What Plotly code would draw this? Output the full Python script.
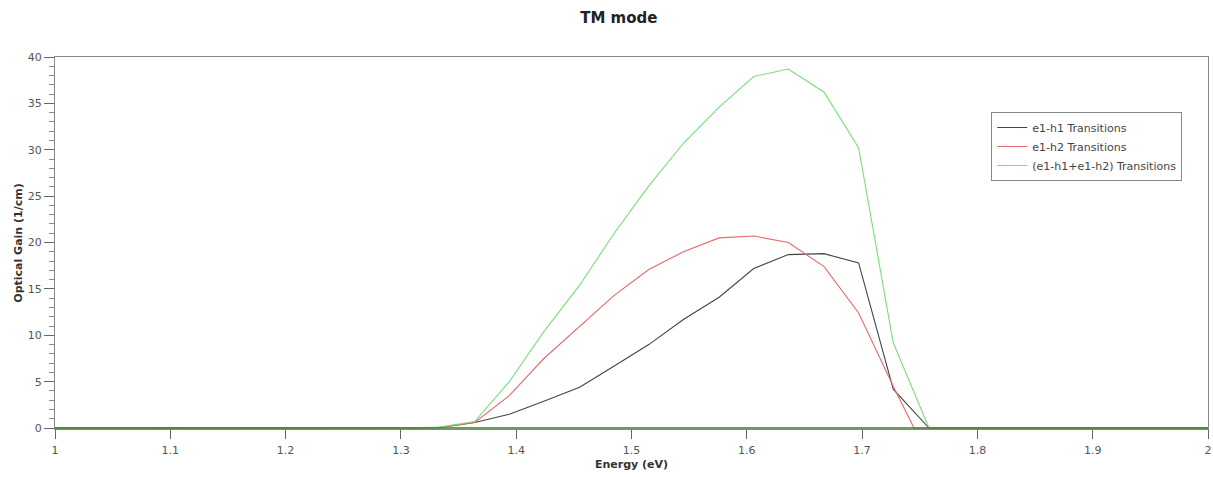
import plotly.graph_objects as go

energy = [1.000, 1.030, 1.061, 1.091, 1.121, 1.152, 1.182, 1.212, 1.242, 1.273,
          1.303, 1.333, 1.364, 1.394, 1.424, 1.455, 1.485, 1.515, 1.545, 1.576,
          1.606, 1.636, 1.667, 1.697, 1.727, 1.758, 1.788, 1.818, 1.848, 1.879,
          1.909, 1.939, 1.970, 2.000]

e1h1 = [0, 0, 0, 0, 0, 0, 0, 0, 0, 0,
        0, 0.05, 0.6, 1.5, 2.9, 4.4, 6.7, 9.0, 11.7, 14.1,
        17.2, 18.7, 18.8, 17.8, 4.2, 0, 0, 0, 0, 0,
        0, 0, 0, 0]

energy_e1h2 = [1.000, 1.030, 1.061, 1.091, 1.121, 1.152, 1.182, 1.212, 1.242, 1.273,
               1.303, 1.333, 1.364, 1.394, 1.424, 1.455, 1.485, 1.515, 1.545, 1.576,
               1.606, 1.636, 1.667, 1.697, 1.727, 1.745, 1.788, 1.818, 1.848, 1.879,
               1.909, 1.939, 1.970, 2.000]

e1h2 = [0, 0, 0, 0, 0, 0, 0, 0, 0, 0,
        0, 0.05, 0.6, 3.5, 7.5, 11.0, 14.3, 17.1, 19.0, 20.5,
        20.7, 20.0, 17.4, 12.4, 4.5, 0, 0, 0, 0, 0,
        0, 0, 0, 0]

total = [0, 0, 0, 0, 0, 0, 0, 0, 0, 0,
         0, 0.1, 0.7, 5.0, 10.4, 15.4, 21.0, 26.1, 30.7, 34.6,
         37.9, 38.7, 36.2, 30.2, 9.2, 0, 0, 0, 0, 0,
         0, 0, 0, 0]

names = ["e1-h1 Transitions", "e1-h2 Transitions", "(e1-h1+e1-h2) Transitions"]
x_ticks = [1, 1.1, 1.2, 1.3, 1.4, 1.5, 1.6, 1.7, 1.8, 1.9, 2]
x_tick_labels = ["1", "1.1", "1.2", "1.3", "1.4", "1.5", "1.6", "1.7", "1.8", "1.9", "2"]
y_ticks = [0, 5, 10, 15, 20, 25, 30, 35, 40]

fig = go.Figure()
fig.add_trace(go.Scatter(x=energy, y=e1h1, mode="lines", name=names[0],
                         line=dict(color="#444444", width=1.1)))
fig.add_trace(go.Scatter(x=energy_e1h2, y=e1h2, mode="lines", name=names[1],
                         line=dict(color="#e46a6a", width=1.1)))
fig.add_trace(go.Scatter(x=energy, y=total, mode="lines", name=names[2],
                         line=dict(color="#78de78", width=1.1)))
# dark baseline as in the reference
fig.add_trace(go.Scatter(x=[energy[0], energy[-1]], y=[0, 0], mode="lines",
                         line=dict(color="#3d7a2e", width=1.6), showlegend=False,
                         hoverinfo="skip"))

fig.update_layout(
    width=1213, height=477,
    margin=dict(l=55, r=5, t=57, b=48, autoexpand=False),
    paper_bgcolor="white", plot_bgcolor="white",
    font=dict(family="DejaVu Sans", size=11, color="#555555"),
    title=dict(text="<b>TM mode</b>", x=0.489, xref="paper", xanchor="center",
               y=0.962, yref="container", yanchor="middle",
               font=dict(size=15, color="#222222", family="DejaVu Sans")),
    showlegend=True,
    legend=dict(x=0.812, y=0.852, xanchor="left", yanchor="top",
                bgcolor="white", bordercolor="#888888", borderwidth=1,
                font=dict(size=11, color="#444444"), tracegroupgap=0,
                itemwidth=30),
    xaxis=dict(range=[1, 2], tickvals=x_ticks, ticktext=x_tick_labels,
               showgrid=False, zeroline=False, showline=True,
               linecolor="#888888", linewidth=1, mirror=True,
               ticks="outside", ticklen=9, tickcolor="#666666",
               ticklabelstandoff=2, ticklabeloverflow="allow",
               tickfont=dict(size=11, color="#555555"),
               title=dict(text="<b>Energy (eV)</b>", standoff=4,
                          font=dict(size=11, color="#333333"))),
    yaxis=dict(range=[-0.1, 40], tickvals=y_ticks,
               showgrid=False, zeroline=False, showline=True,
               linecolor="#888888", linewidth=1, mirror=True,
               ticks="outside", ticklen=10, tickcolor="#666666",
               minor=dict(dtick=1, ticks="outside", ticklen=5, tickcolor="#888888"),
               tickfont=dict(size=11, color="#555555"),
               title=dict(text="<b>Optical Gain (1/cm)</b>", standoff=2,
                          font=dict(size=11, color="#333333"))),
)

fig.write_html("out.html",
               config={"displayModeBar": False},
               post_script="document.body.style.margin='0';document.body.style.overflow='hidden';")
